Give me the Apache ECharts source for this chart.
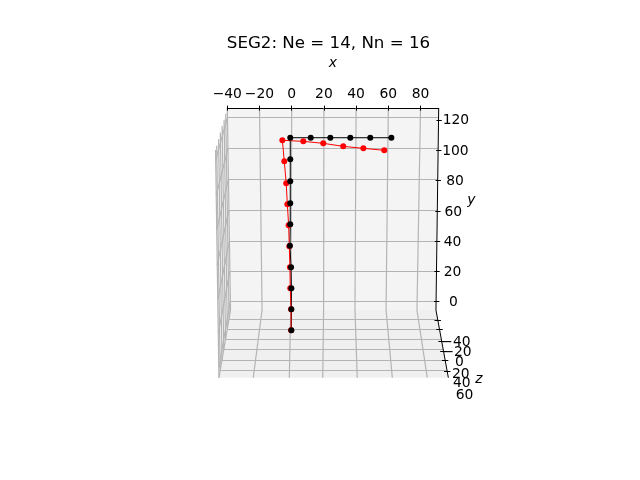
<!DOCTYPE html>
<html>
<head>
<meta charset="utf-8">
<script src="https://cdn.jsdelivr.net/npm/echarts@6/dist/echarts.min.js"></script>
<style>
  html, body { margin: 0; padding: 0; background: #fff; }
  #chart { width: 640px; height: 480px; }
</style>
</head>
<body>
<div id="chart"></div>
<script>
// all values are in the apparent (projected) x / y units of the picture
var blackX = [-0.2, -0.2, -0.2, -0.4, -1.1, -0.9, -0.9, -0.9, -0.9, -0.9, 11.8, 24.0, 36.4, 48.8, 61.9];
var blackY = [-18.9, -5.0, 8.9, 22.7, 37.0, 51.1, 65.0, 79.5, 94.1, 108.3, 108.3, 108.3, 108.3, 108.3, 108.3];
var redX = [-0.4, -0.4, -0.9, -1.1, -1.5, -1.9, -2.7, -3.4, -4.6, -5.8, 7.2, 19.6, 32.0, 44.5, 57.5];
var redY = [-18.9, -5.0, 8.9, 22.7, 36.6, 50.5, 64.3, 78.2, 92.7, 106.6, 105.9, 104.6, 102.6, 101.3, 100.0];

var xTicks = [-40, -20, 0, 20, 40, 60, 80];
var yTicks = [120, 100, 80, 60, 40, 20, 0];
var zTickLabels = ['\u221240', '\u221220', '0', '20', '40', '60'];

// box corners
var backLeft = [-38, -5.5];
var backRight = [89.6, -5.5];
var topLeft = [-40, 127.7];
var topRight = [91.3, 127.7];
var frontLeft = [-45.2, -50.2];
var frontRight = [97.3, -50.2];
var outerTop = [-47.3, 100.2];

// back wall, horizontal grid lines
var yGridLevel = [121.8, 101.2, 81.0, 60.6, 40.1, 20.3, 0.5];
var yGridLeft = [-39.9, -39.6, -39.3, -39, -38.7, -38.4, -38.1];
var yGridRight = [91.2, 91.0, 90.7, 90.5, 90.2, 89.9, 89.7];
// same lines carried on over the left wall
var yWallX = [-47.3, -46.9, -46.6, -46.3, -45.9, -45.6, -45.2];
var yWallY = [93.3, 70.0, 47.4, 24.2, 1.2, -21.1, -43.5];

// vertical grid lines: top of wall, wall/floor edge, front of floor
var xGridBack = [-38, -18.4, -0.6, 19.8, 39.3, 58.6, 77.8];
var xGridFront = [-45.2, -23.9, -1.5, 19.3, 40.7, 62.5, 84.2];

// z grid lines on floor and left wall
var zFloorY = [-11.4, -18.0, -24.7, -31.7, -38.6, -45.6];
var zFloorLeft = [-38.9, -40, -41.1, -42.2, -43.3, -44.4];
var zFloorRight = [90.6, 91.7, 92.9, 94.1, 95.3, 96.5];
var zWallTopX = [-41.0, -42.0, -43.2, -44.3, -45.4, -46.6];
var zWallTopY = [124.2, 120.1, 116.0, 111.7, 107.4, 103.0];

// z axis ticks and labels
var zTickX = [90.7, 91.8, 93.1, 94.2, 95.3, 96.6];
var zTickY = [-12.1, -18.0, -25.8, -32.4, -39.0, -46.2];
var zLabelX = [102, 102.7, 104.1, 105, 105.6, 107.4];
var zLabelY = [-27.1, -33.5, -40.1, -47.8, -53.7, -61.7];

// y tick labels drift along the slanted edge
var yLabelX = [102, 101.7, 101.4, 100.4, 99.9, 99.9, 100.4];
var yLabelY = [119.5, 99.3, 79.2, 59.0, 39.2, 19.4, -0.7];

var axisNames = ['x', 'y', 'z'];
var axisNameX = [25.5, 111.6, 116.3];
var axisNameY = [157.4, 66.8, -51.1];

function zip(a, b) {
  return a.map(function (v, i) { return [v, b[i]]; });
}

function segSeries(segs, color, width, z) {
  return {
    type: 'lines',
    coordinateSystem: 'cartesian2d',
    clip: false,
    silent: true,
    z: z,
    lineStyle: { color: color, width: width, opacity: 1 },
    data: segs.map(function (s) { return { coords: s }; })
  };
}

function paneSeries(points, color) {
  return {
    type: 'custom',
    coordinateSystem: 'cartesian2d',
    silent: true,
    z: 0,
    clip: false,
    data: [0],
    renderItem: function (params, api) {
      return {
        type: 'polygon',
        shape: { points: points.map(function (p) { return api.coord(p); }) },
        style: { fill: color }
      };
    }
  };
}

var tickFont = { fontFamily: 'DejaVu Sans', fontSize: 13.89, color: '#000' };

function textSeries(xs, ys, texts, extra) {
  return {
    type: 'scatter',
    data: zip(xs, ys),
    clip: false,
    silent: true,
    z: 6,
    symbolSize: 0,
    itemStyle: { opacity: 1 },
    label: Object.assign({
      show: true,
      position: 'inside',
      formatter: function (p) { return String(texts[p.dataIndex]); }
    }, tickFont, extra)
  };
}

var gridSegs = [];
yGridLevel.forEach(function (y, i) {
  gridSegs.push([[yGridLeft[i], y], [yGridRight[i], y]]);
  gridSegs.push([[yGridLeft[i], y], [yWallX[i], yWallY[i]]]);
});
xTicks.forEach(function (x, i) {
  gridSegs.push([[x, topLeft[1]], [xGridBack[i], backLeft[1]]]);
  gridSegs.push([[xGridBack[i], backLeft[1]], [xGridFront[i], frontLeft[1]]]);
});
zFloorY.forEach(function (y, i) {
  gridSegs.push([[zFloorLeft[i], y], [zFloorRight[i], y]]);
  gridSegs.push([[zFloorLeft[i], y], [zWallTopX[i], zWallTopY[i]]]);
});
gridSegs.push([outerTop, frontLeft]);

var axisSegs = [[topRight, backRight], [backRight, frontRight]];
xTicks.forEach(function (x) {
  axisSegs.push([[x, 126.2], [x, 129.5]]);
});
yTicks.forEach(function (y, i) {
  axisSegs.push([[yGridRight[i] - 1.3, y], [yGridRight[i] + 2, y]]);
});
zTickY.forEach(function (y, i) {
  axisSegs.push([[zTickX[i] - 2, y], [zTickX[i] + 2, y]]);
});

var option = {
  animation: false,
  backgroundColor: '#fff',
  title: {
    text: 'SEG2: Ne = 14, Nn = 16',
    left: 323.5,
    top: 30,
    textAlign: 'center',
    textStyle: { fontFamily: 'DejaVu Sans', fontSize: 16.67, fontWeight: 'normal', color: '#000' }
  },
  grid: { left: 227.3, top: 108.3, width: 211.4, height: 253.96 },
  xAxis: {
    type: 'value',
    position: 'top',
    min: -40,
    max: 91.3,
    splitLine: { show: false },
    axisTick: { show: false },
    axisLine: { show: true, onZero: false, lineStyle: { color: '#000', width: 1 } },
    axisLabel: Object.assign({
      margin: 7,
      customValues: xTicks,
      formatter: function (v) { return String(v).replace('-', '\u2212'); }
    }, tickFont)
  },
  yAxis: {
    type: 'value',
    position: 'right',
    min: -40,
    max: 127.74,
    splitLine: { show: false },
    axisTick: { show: false },
    axisLine: { show: false },
    axisLabel: { show: false }
  },
  series: [
    paneSeries([topLeft, topRight, backRight, backLeft], '#f4f4f4'),
    paneSeries([backLeft, backRight, frontRight, frontLeft], '#f0f0f0'),
    paneSeries([topLeft, backLeft, frontLeft, outerTop], '#f8f8f8'),
    segSeries(gridSegs, '#b4b4b4', 1.2, 1),
    segSeries(axisSegs, '#000', 1, 2),
    {
      type: 'line',
      data: zip(blackX, blackY),
      clip: false,
      silent: true,
      z: 3,
      symbol: 'none',
      lineStyle: { color: '#000', width: 1 }
    },
    {
      type: 'line',
      data: zip(redX, redY),
      clip: false,
      silent: true,
      z: 4,
      symbol: 'circle',
      symbolSize: 6,
      itemStyle: { color: '#ff0000', opacity: 1 },
      lineStyle: { color: '#ff0000', width: 1 }
    },
    {
      type: 'scatter',
      data: zip(blackX, blackY),
      clip: false,
      silent: true,
      z: 5,
      symbol: 'circle',
      symbolSize: 6,
      itemStyle: { color: '#000', opacity: 1 }
    },
    textSeries(yLabelX, yLabelY, yTicks, {}),
    textSeries(zLabelX, zLabelY, zTickLabels, {}),
    textSeries(axisNameX, axisNameY, axisNames, { fontStyle: 'italic' })
  ]
};

var myChart = echarts.init(document.getElementById('chart'));
myChart.setOption(option);
</script>
</body>
</html>
